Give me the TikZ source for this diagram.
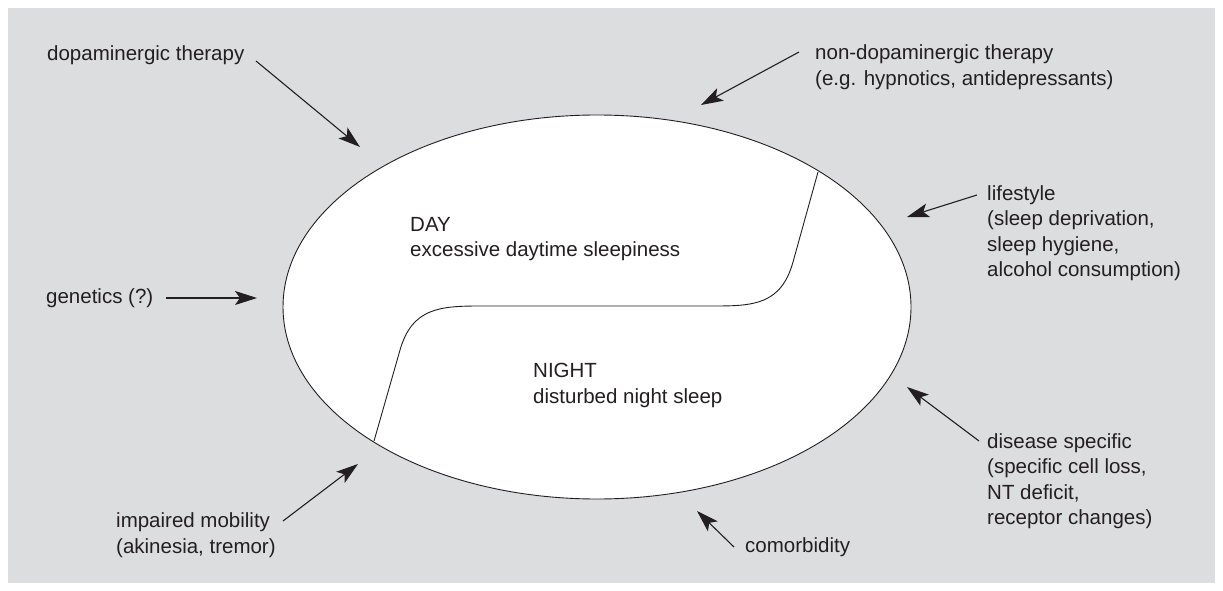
\documentclass[tikz,border=0pt]{standalone}
\usepackage{fontspec}
\setmainfont{Liberation Sans}
\usetikzlibrary{arrows.meta,shapes.geometric}
\definecolor{bg}{RGB}{220,221,223}
\definecolor{ink}{RGB}{35,31,32}
\begin{document}
\begin{tikzpicture}[x=1pt,y=-1pt,
  lbl/.style={anchor=base west, inner sep=0pt, align=left, text=ink,
    font=\fontsize{20.5}{25.5}\selectfont},
  arr/.style={-{Stealth[length=22pt,width=14pt,inset=5pt]}, line width=1.1pt, draw=ink},
  curve/.style={line width=0.9pt, draw=ink}]
\useasboundingbox (0,0) rectangle (1223,591);
\fill[white] (0,0) rectangle (1223,591);
\fill[bg] (8,8) rectangle (1215,583);
\node[draw=ink, fill=white, ellipse, line width=0.9pt, inner sep=0pt,
  minimum width=628pt, minimum height=384pt] (oval) at (597,307) {};
% S curve
\coordinate (s1) at (374,441);
\coordinate (s2) at (818,172);
\draw[curve] (s1) -- (400,350) .. controls (412,308) and (440,306) .. (480,306)
  -- (713,306) .. controls (753,306) and (781,305) .. (793,262) -- (s2);
% inner texts (anchor = baseline of last line)
\node[lbl] (day) at (410,256.5) {DAY\\excessive daytime sleepiness};
\node[lbl] (night) at (533,403) {NIGHT\\disturbed night sleep};
% outer labels
\node[lbl] (dopa) at (47,61) {dopaminergic therapy};
\node[lbl] (nondopa) at (815,85.5) {non-dopaminergic therapy\\(e.g. hypnotics, antidepressants)};
\node[lbl] (life) at (987,276.5) {lifestyle\\(sleep deprivation,\\sleep hygiene,\\alcohol consumption)};
\node[lbl] (gen) at (46,303) {genetics (?)};
\node[lbl] (mob) at (116,553) {impaired mobility\\(akinesia, tremor)};
\node[lbl] (dis) at (987,524.5) {disease specific\\(specific cell loss,\\NT deficit,\\receptor changes)};
\node[lbl] (comor) at (745,552) {comorbidity};
% arrow ends
\coordinate (dopaS) at (256,61);   \coordinate (dopaT) at (360,147);
\coordinate (nondS) at (799,52);   \coordinate (nondT) at (701,105);
\coordinate (lifeS) at (977,195);  \coordinate (lifeT) at (907,217);
\coordinate (genS) at (166,298);   \coordinate (genT) at (257,298);
\coordinate (mobS) at (283,521);   \coordinate (mobT) at (358,464);
\coordinate (disS) at (979,441);   \coordinate (disT) at (907,387);
\coordinate (comS) at (734,547);   \coordinate (comT) at (697,511);
\draw[arr] (dopaS) -- (dopaT);
\draw[arr] (nondS) -- (nondT);
\draw[arr] (lifeS) -- (lifeT);
\draw[arr] (genS) -- (genT);
\draw[arr] (mobS) -- (mobT);
\draw[arr] (disS) -- (disT);
\draw[arr] (comS) -- (comT);
\end{tikzpicture}
\end{document}
